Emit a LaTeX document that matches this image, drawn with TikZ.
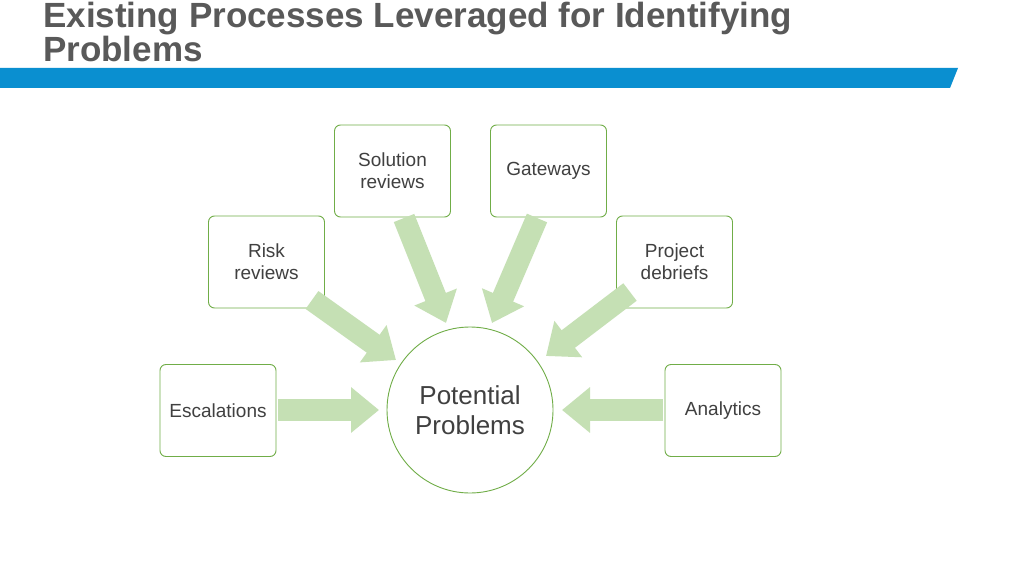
\documentclass[tikz,border=0pt]{standalone}
\usepackage{fontspec}
\setmainfont{Liberation Sans}
\usetikzlibrary{arrows.meta}
\definecolor{ttl}{HTML}{595959}
\definecolor{bar}{HTML}{0A8FD0}
\definecolor{gbord}{HTML}{70AD47}
\definecolor{garr}{HTML}{C5E0B4}
\definecolor{txt}{HTML}{404040}
\tikzset{
 box/.style={draw=gbord,line width=0.9pt,rounded corners=6pt,minimum width=116pt,minimum height=92pt,align=center,text=txt,font=\fontsize{19}{22}\selectfont,inner sep=2pt},
 barrow/.style={draw=garr,line width=22pt,-{Triangle[width=44pt,length=28pt]}},
}
\begin{document}
\begin{tikzpicture}[x=1pt,y=-1pt]
\useasboundingbox (0,0) rectangle (1024,575);
\fill[white] (0,0) rectangle (1024,575);
\node[anchor=north west,text=ttl,font=\bfseries\fontsize{35}{29}\selectfont,align=left,inner sep=0] (title) at (43,2) {Existing Processes Leveraged for Identifying\\Problems};
\fill[bar] (0,68) -- (958,68) -- (950,88) -- (0,88) -- cycle;
\node[circle,draw=gbord,line width=0.9pt,minimum size=166pt,align=center,text=txt,font=\fontsize{26}{30}\selectfont] (pp) at (470,410) {Potential\\Problems};
\node[box] (esc) at (218,410.5) {Escalations};
\node[box] (risk) at (266.5,262) {Risk\\reviews};
\node[box] (sol) at (392.5,171) {Solution\\reviews};
\node[box] (gate) at (548.5,171) {Gateways};
\node[box] (proj) at (674.5,262) {Project\\debriefs};
\node[box] (ana) at (723,410.5) {Analytics};
\coordinate (e1) at (278,410); \coordinate (e2) at (379,410);
\coordinate (a1) at (663,410); \coordinate (a2) at (562,410);
\coordinate (r1) at (312,300); \coordinate (r2) at (396,360);
\coordinate (p1) at (630,292); \coordinate (p2) at (546,356);
\coordinate (s1) at (404,218); \coordinate (s2) at (446,323);
\coordinate (g1) at (537,218); \coordinate (g2) at (492,323);
\draw[barrow] (e1) -- (e2);
\draw[barrow] (a1) -- (a2);
\draw[barrow] (r1) -- (r2);
\draw[barrow] (p1) -- (p2);
\draw[barrow] (s1) -- (s2);
\draw[barrow] (g1) -- (g2);
\end{tikzpicture}
\end{document}
